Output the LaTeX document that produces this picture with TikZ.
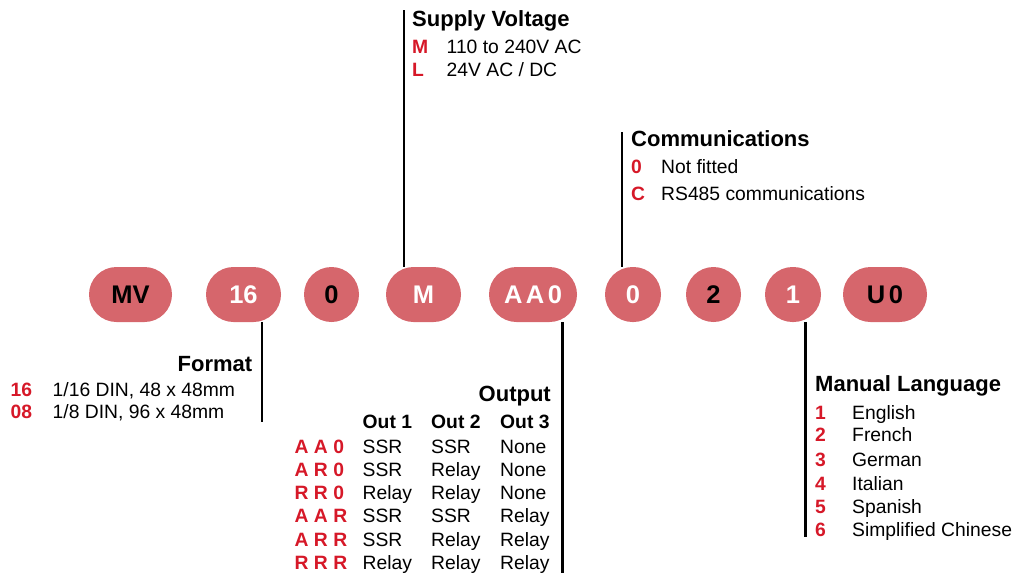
\documentclass[tikz,border=0pt]{standalone}
\usepackage{fontspec}
\setmainfont{Liberation Sans}
\definecolor{pillfill}{RGB}{214,102,108}
\definecolor{codered}{RGB}{214,24,40}
\begin{document}
\begin{tikzpicture}[x=1pt,y=-1pt,
  pill/.style={fill=pillfill,draw=none,minimum height=55pt,rounded corners=27.5pt,inner sep=0pt,font=\fontsize{25.5}{28}\selectfont\bfseries},
  title/.style={inner sep=0pt,font=\fontsize{22}{26}\selectfont\bfseries},
  txt/.style={inner sep=0pt,anchor=base west,font=\fontsize{19.3}{22}\selectfont},
  code/.style={inner sep=0pt,anchor=base west,text=codered,font=\fontsize{19.3}{22}\selectfont\bfseries},
  lead/.style={line width=2.6pt,black}]
\useasboundingbox (0,0) rectangle (1014,573);
% pills
\node[pill,minimum width=83pt,text=black] (MV) at (130.5,294.5) {MV};
\node[pill,minimum width=75pt,text=white] (P16) at (243.5,294.5) {16};
\node[pill,minimum width=55pt,text=black] (P0a) at (331.5,294.5) {0};
\node[pill,minimum width=75pt,text=white] (M) at (423.5,294.5) {M};
\node[pill,minimum width=88pt,text=white] (AA0) at (533,294.5) {A\kern3.5pt A\kern3.5pt 0};
\node[pill,minimum width=56pt,text=white] (P0b) at (633,294.5) {0};
\node[pill,minimum width=55pt,text=black] (P2) at (713.5,294.5) {2};
\node[pill,minimum width=56pt,text=white] (P1) at (793,294.5) {1};
\node[pill,minimum width=84pt,text=black] (U0) at (885,294.5) {U\kern3.5pt 0};
% leader lines
\coordinate (svtop) at (404,10);
\draw[lead] (svtop) -- (svtop |- M.north);
\coordinate (comtop) at (622,132);
\draw[lead] (comtop) -- (comtop |- P0b.north);
\coordinate (fmtbot) at (262,422);
\draw[lead] (fmtbot |- P16.south) -- (fmtbot);
\coordinate (outbot) at (562.5,573);
\draw[lead] (outbot |- AA0.south) -- (outbot);
\coordinate (manbot) at (805.5,537);
\draw[lead] (manbot |- P1.south) -- (manbot);
% Supply Voltage
\node[title,anchor=base west] (svt) at (412,26.7) {Supply Voltage};
\node[code] (svm) at (412,53.3) {M};
\node[txt] (svmt) at (446.5,53.3) {110 to 240V AC};
\node[code] (svl) at (412,76) {L};
\node[txt] (svlt) at (446.5,76) {24V AC / DC};
% Communications
\node[title,anchor=base west] (comt) at (631,146.7) {Communications};
\node[code] (com0) at (631,173.3) {0};
\node[txt] (com0t) at (661,173.3) {Not fitted};
\node[code] (comc) at (631,200) {C};
\node[txt] (comct) at (661,200) {RS485 communications};
% Format
\node[title,anchor=base east] (fmtt) at (252.5,371.7) {Format};
\node[code] (f16) at (10.5,396.7) {16};
\node[txt] (f16t) at (52.5,396.7) {1/16 DIN, 48 x 48mm};
\node[code] (f08) at (10.5,418.3) {08};
\node[txt] (f08t) at (52.5,418.3) {1/8 DIN, 96 x 48mm};
% Output
\node[title,anchor=base east] (outt) at (551,401.7) {Output};
\node[txt,font=\fontsize{19.3}{22}\selectfont\bfseries] (h1) at (362.5,428.3) {Out 1};
\node[txt,font=\fontsize{19.3}{22}\selectfont\bfseries] (h2) at (431,428.3) {Out 2};
\node[txt,font=\fontsize{19.3}{22}\selectfont\bfseries] (h3) at (500,428.3) {Out 3};
\foreach \c/\a/\b/\d [count=\i from 0] in {A A 0/SSR/SSR/None, A R 0/SSR/Relay/None, R R 0/Relay/Relay/None, A A R/SSR/SSR/Relay, A R R/SSR/Relay/Relay, R R R/Relay/Relay/Relay}{
  \node[code] (oc\i) at (294.5,453.3+23.2*\i) {\c};
  \node[txt] (oa\i) at (362.5,453.3+23.2*\i) {\a};
  \node[txt] (ob\i) at (431,453.3+23.2*\i) {\b};
  \node[txt] (od\i) at (500,453.3+23.2*\i) {\d};
}
% Manual Language
\node[title,anchor=base west] (mant) at (815,391.7) {Manual Language};
\foreach \n/\l/\y in {1/English/419.3, 2/French/441.7, 3/German/466, 4/Italian/490, 5/Spanish/513.3, 6/Simplified Chinese/536.7}{
  \node[code] (mn\n) at (815,\y) {\n};
  \node[txt] (ml\n) at (852,\y) {\l};
}
\end{tikzpicture}
\end{document}
